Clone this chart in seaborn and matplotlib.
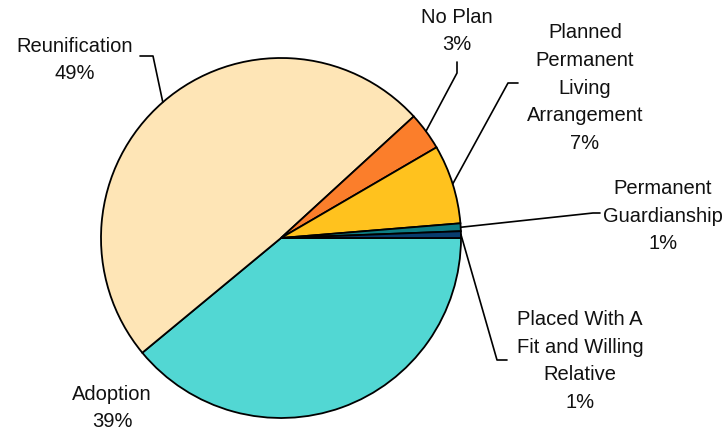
import matplotlib
matplotlib.use("Agg")
import matplotlib.pyplot as plt
import numpy as np
import seaborn as sns

# Permanency goals (share of cases, %)
categories = ["Adoption", "Reunification", "No Plan",
              "Planned\nPermanent\nLiving\nArrangement",
              "Permanent\nGuardianship",
              "Placed With A\nFit and Willing\nRelative"]
shares = [39.0, 49.2, 3.4, 7.1, 0.7, 0.6]
colors = ["#52D7D3", "#FEE5B6", "#FB7E2B", "#FFC21E", "#0E7E84", "#083D6E"]

sns.set_theme(style="white")
plt.rcParams['font.family'] = ['Liberation Sans', 'DejaVu Sans']

W, H = 725, 430
CX, CY, R = 281, 238, 180  # pie centre / radius in pixels

fig = plt.figure(figsize=(W / 100, H / 100), dpi=100)
ax = fig.add_axes([0, 0, 1, 1])

wedges, _ = ax.pie(shares, colors=colors, startangle=0, counterclock=False,
                   radius=1, center=(0, 0),
                   wedgeprops=dict(edgecolor="black", linewidth=1.3))
ax.set_xlim(-CX / R, (W - CX) / R)
ax.set_ylim(-(H - CY) / R, CY / R)
ax.axis("off")


def px(x, y):
    return (x - CX) / R, (CY - y) / R


# text centre (px), elbow points (px) for each label; None = no leader
layout = [
    ((112, 408), None),
    ((75, 60), [(140, 56), (153, 56)]),
    ((457, 31), [(457, 62), (457, 73)]),
    ((585, 88), [(518, 83), (508, 83)]),
    ((663, 216), [(600, 213), (593, 213)]),
    ((580, 361), [(507, 360), (497, 360)]),
]

for w, cat, v, (tpos, elbow) in zip(wedges, categories, shares, layout):
    mid = np.deg2rad((w.theta1 + w.theta2) / 2)
    rim = (np.cos(mid), np.sin(mid))
    ax.text(*px(*tpos), f"{cat}\n{v:.0f}%", ha="center", va="center",
            fontsize=14.5, linespacing=1.58, color="#111111")
    if elbow:
        pts = [px(*p) for p in elbow] + [rim]
        ax.plot([p[0] for p in pts], [p[1] for p in pts], color="black", lw=1.2)

fig.savefig("out.png", dpi=100)
